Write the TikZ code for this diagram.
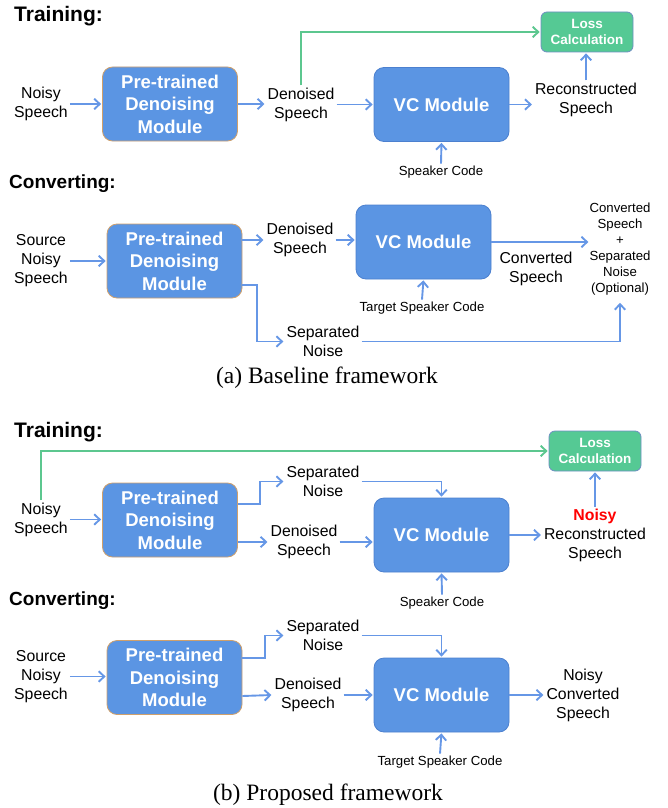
\documentclass[tikz,border=0pt]{standalone}
\usepackage{fontspec}
\setmainfont{Liberation Sans}
\newfontfamily\capfont{Liberation Serif}
\usetikzlibrary{arrows.meta}
\definecolor{boxblue}{HTML}{5B95E3}
\definecolor{vcedge}{HTML}{4C80CF}
\definecolor{boxedge}{HTML}{CFA06C}
\definecolor{lossgreen}{HTML}{55C994}
\definecolor{lossedge}{HTML}{6E8FC2}
\definecolor{arrowblue}{HTML}{6697E6}
\definecolor{linegreen}{HTML}{5CC78F}
\tikzset{
  denoiser/.style={draw=boxedge, fill=boxblue, line width=0.8pt, rounded corners=10pt,
    minimum width=135pt, minimum height=74pt, inner sep=0pt, align=center, text=white,
    font=\fontsize{18.5}{22.5}\selectfont\bfseries},
  vcbox/.style={denoiser, draw=vcedge},
  lossbox/.style={draw=lossedge, fill=lossgreen, line width=0.8pt, rounded corners=6pt,
    minimum width=92pt, minimum height=40pt, inner sep=0pt, align=center, text=white,
    font=\fontsize{13.5}{16.5}\selectfont\bfseries},
  lbl/.style={align=center, inner sep=2pt, font=\fontsize{15.8}{19}\selectfont},
  smalllbl/.style={align=center, inner sep=2pt, font=\fontsize{13.2}{16}\selectfont},
  heading/.style={anchor=west, inner sep=0pt, font=\fontsize{#1}{#1}\selectfont\bfseries},
  caption/.style={inner sep=0pt, font=\capfont\fontsize{23.5}{27}\selectfont},
  flow/.style={draw=arrowblue, line width=1.9pt, -{Straight Barb[length=5.5pt,width=10.5pt]}, shorten >=1pt},
  lossflow/.style={flow, draw=linegreen}
}
\begin{document}
\begin{tikzpicture}[x=1pt, y=-1pt]
\useasboundingbox (0,0) rectangle (667,808);
% (a) baseline, training
\node[heading=21] (trainA) at (14,16) {Training:};
\node[lbl] (noisyA) at (41,104) {Noisy\\Speech};
\node[denoiser] (denA) at (170,104) {Pre-trained\\Denoising\\Module};
\node[lbl] (cleanA) at (301,104.5) {Denoised\\Speech};
\node[vcbox] (vcA) at (441.5,104.5) {VC Module};
\node[lbl] (reconA) at (586,99.5) {Reconstructed\\Speech};
\node[lossbox] (lossA) at (587,32) {Loss\\Calculation};
\node[smalllbl] (spkA) at (441,172) {Speaker Code};
\draw[flow] (noisyA.east) -- (noisyA.east -| denA.west);
\draw[flow] (denA.east) -- (denA.east -| cleanA.west);
\draw[flow] (cleanA.east) -- (cleanA.east -| vcA.west);
\draw[flow] (vcA.east) -- (vcA.east -| reconA.west);
\draw[flow] (reconA.north) -- (reconA.north |- lossA.south);
\draw[flow] (spkA.north) -- (vcA.south);
\draw[lossflow] (cleanA.north) |- (lossA.west);
% (a) baseline, converting
\node[heading=19] (convA) at (9,184) {Converting:};
\node[lbl] (srcA) at (41,261) {Source\\Noisy\\Speech};
\node[denoiser] (denB) at (174.5,261) {Pre-trained\\Denoising\\Module};
\node[lbl] (cleanB) at (300,240) {Denoised\\Speech};
\node[vcbox] (vcB) at (423.5,242) {VC Module};
\node[lbl] (convB) at (536,268.5) {Converted\\Speech};
\node[smalllbl, inner sep=0pt] (outB) at (620,249.5) {Converted\\Speech\\+\\Separated\\Noise\\(Optional)};
\node[smalllbl] (tgtB) at (422,308) {Target Speaker Code};
\node[lbl] (sepB) at (323,341.5) {Separated\\Noise};
\draw[flow] (srcA.east) -- (srcA.east -| denB.west);
\draw[flow] (denB.east |- cleanB.west) -- (cleanB.west);
\draw[flow] (cleanB.east) -- (cleanB.east -| vcB.west);
\draw[flow] (vcB.east) -- (vcB.east -| outB.west);
\draw[flow] (tgtB.north) -- (vcB.south);
\draw[flow] ([yshift=-24pt]denB.east) -- ++(15,0) |- (sepB.west);
\draw[flow, shorten >=7pt] (sepB.east) -| (outB.south);
\node[caption] (capA) at (327,378) {(a) Baseline framework};
% (b) proposed, training
\node[heading=21] (trainB) at (14,432) {Training:};
\node[lbl] (noisyC) at (41,519.5) {Noisy\\Speech};
\node[denoiser] (denC) at (170,520) {Pre-trained\\Denoising\\Module};
\node[lbl] (sepC) at (323,481.5) {Separated\\Noise};
\node[lbl] (cleanC) at (304,542) {Denoised\\Speech};
\node[vcbox] (vcC) at (441.5,535) {VC Module};
\node[lbl] (reconC) at (595,535.5) {\textcolor{red}{\bfseries Noisy}\\Reconstructed\\Speech};
\node[lossbox] (lossC) at (595,451) {Loss\\Calculation};
\node[smalllbl] (spkC) at (442,603) {Speaker Code};
\draw[flow] (noisyC.east) -- (noisyC.east -| denC.west);
\draw[flow] ([yshift=16pt]denC.east) -- ++(22,0) |- (sepC.west);
\draw[flow] (sepC.east) -| (vcC.north);
\draw[flow] ([yshift=-22pt]denC.east) -- (cleanC.west);
\draw[flow] (cleanC.east) -- (cleanC.east -| vcC.west);
\draw[flow] (vcC.east) -- (vcC.east -| reconC.west);
\draw[flow] (reconC.north) -- (reconC.north |- lossC.south);
\draw[flow] (spkC.north) -- (vcC.south);
\draw[lossflow] (noisyC.north) |- (lossC.west);
% (b) proposed, converting
\node[heading=19] (convC) at (9,601) {Converting:};
\node[lbl] (srcD) at (41,676.5) {Source\\Noisy\\Speech};
\node[denoiser] (denD) at (174.5,677.5) {Pre-trained\\Denoising\\Module};
\node[lbl] (sepD) at (323,635.5) {Separated\\Noise};
\node[lbl] (cleanD) at (308,695) {Denoised\\Speech};
\node[vcbox] (vcD) at (441.5,695) {VC Module};
\node[lbl] (outD) at (583,695) {Noisy\\Converted\\Speech};
\node[smalllbl] (tgtD) at (440,762) {Target Speaker Code};
\draw[flow] (srcD.east) -- (srcD.east -| denD.west);
\draw[flow] ([yshift=19.5pt]denD.east) -- ++(23,0) |- (sepD.west);
\draw[flow] (sepD.east) -| (vcD.north);
\draw[flow] ([yshift=-18.5pt]denD.east) -- (cleanD.west);
\draw[flow] (cleanD.east) -- (cleanD.east -| vcD.west);
\draw[flow] (vcD.east) -- (vcD.east -| outD.west);
\draw[flow] (tgtD.north) -- (vcD.south);
\node[caption] (capB) at (328,795) {(b) Proposed framework};
\end{tikzpicture}
\end{document}
